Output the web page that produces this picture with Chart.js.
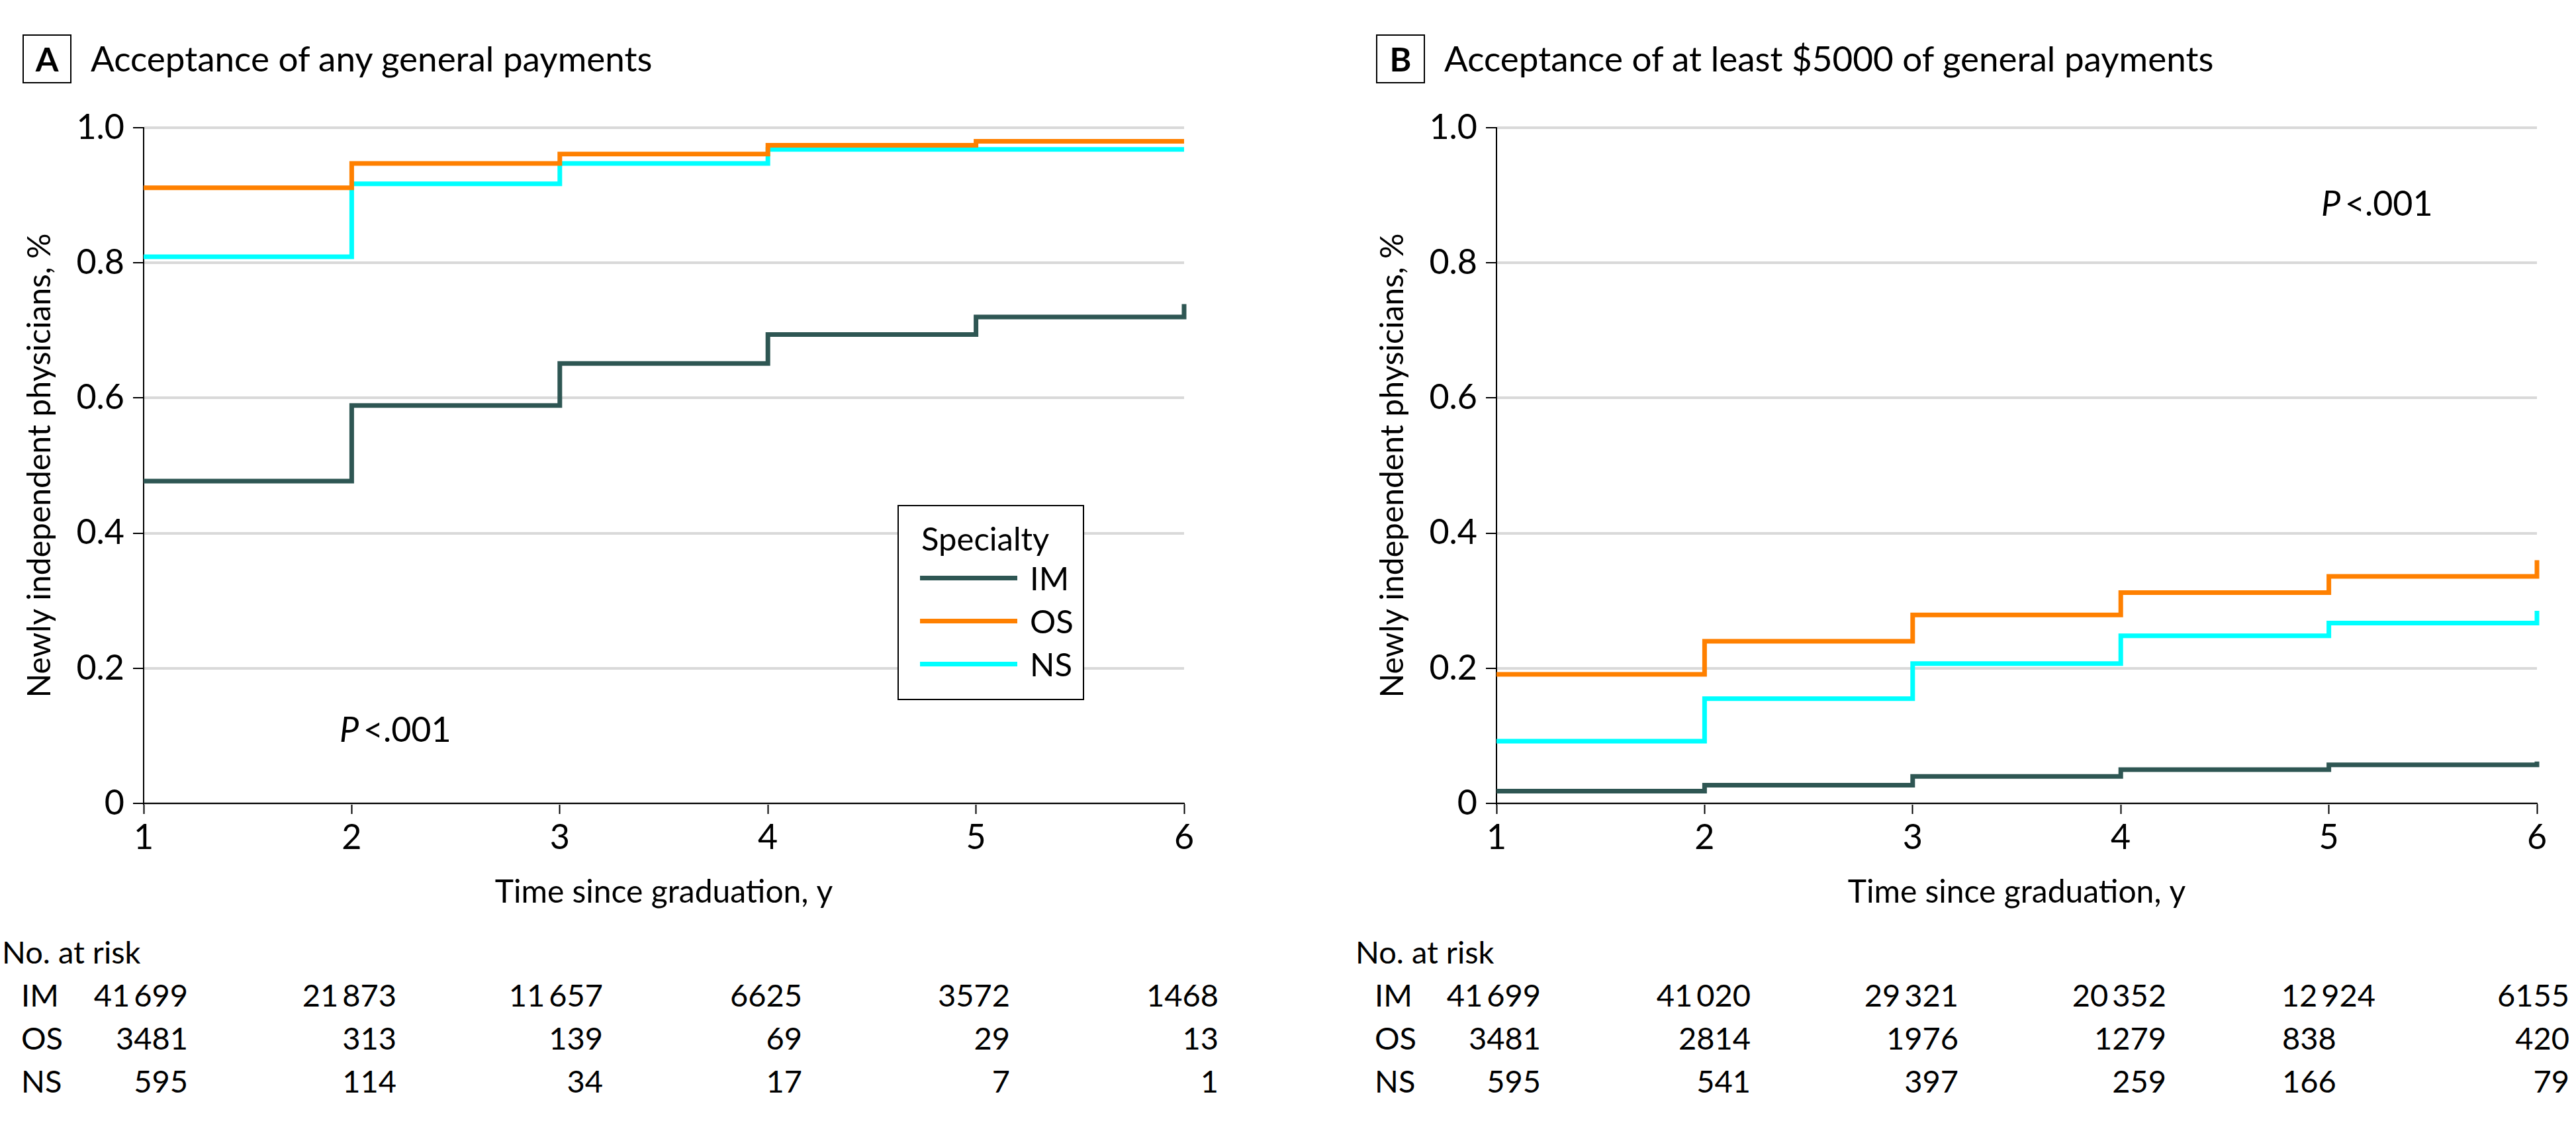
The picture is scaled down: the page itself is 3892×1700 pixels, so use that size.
<!DOCTYPE html>
<html>
<head>
<meta charset="utf-8">
<script src="https://cdn.jsdelivr.net/npm/chart.js@4.4.3/dist/chart.umd.min.js"></script>
<style>
  body { margin: 0; background: #fff; }
  #page { position: relative; width: 3892px; height: 1700px; overflow: hidden; font-family: Lato, "Open Sans", sans-serif; color: #000; }
  canvas { position: absolute; top: 0; }
  .txt { position: absolute; white-space: nowrap; }
  .panelBox { position: absolute; box-sizing: border-box; border: 2px solid #000; font-weight: bold; text-align: center; }
  .legendBox { position: absolute; box-sizing: border-box; border: 2px solid #000; background: #fff; }
  .legendLine { position: absolute; height: 7px; }
</style>
</head>
<body>
<div id="page">
  <canvas id="chartA" width="1848" height="1400" style="left:0px"></canvas>
  <canvas id="chartB" width="1848" height="1400" style="left:2044px"></canvas>
</div>
<script>
// cumulative share accepting payments, years 1..6 since graduation
const years = [1, 2, 3, 4, 5, 6];
const specialties = ['IM', 'OS', 'NS'];

const anyIM = [0.477, 0.589, 0.651, 0.694, 0.720, 0.739];
const anyOS = [0.911, 0.947, 0.961, 0.974, 0.980, 0.980];
const anyNS = [0.809, 0.917, 0.947, 0.968, 0.968, 0.968];

const bigIM = [0.018, 0.027, 0.040, 0.050, 0.057, 0.062];
const bigOS = [0.191, 0.240, 0.279, 0.312, 0.336, 0.360];
const bigNS = [0.092, 0.155, 0.207, 0.248, 0.267, 0.285];

// number at risk
const riskAnyIM = [41699, 21873, 11657, 6625, 3572, 1468];
const riskAnyOS = [3481, 313, 139, 69, 29, 13];
const riskAnyNS = [595, 114, 34, 17, 7, 1];

const riskBigIM = [41699, 41020, 29321, 20352, 12924, 6155];
const riskBigOS = [3481, 2814, 1976, 1279, 838, 420];
const riskBigNS = [595, 541, 397, 259, 166, 79];

const colors = { IM: '#2e5653', OS: '#ff8000', NS: '#00ffff' };
const FONT = 'Lato';

Chart.defaults.font.family = FONT;
Chart.defaults.color = '#000';

const page = document.getElementById('page');

function addText(html, x, baseline, size, opts = {}) {
    const el = document.createElement('div');
    el.className = 'txt';
    el.innerHTML = html;
    el.style.fontSize = size + 'px';
    el.style.lineHeight = size + 'px';
    el.style.left = x + 'px';
    el.style.top = (baseline - 0.887 * size) + 'px';
    if (opts.align === 'right') el.style.transform = 'translateX(-100%)';
    if (opts.bold) el.style.fontWeight = 'bold';
    page.appendChild(el);
    return el;
}

function series(label, values) {
    return {
        label: label,
        data: years.map((x, i) => ({ x: x, y: values[i] })),
        borderColor: colors[label],
        backgroundColor: colors[label],
        borderWidth: 7,
        pointRadius: 0,
        stepped: true,
        fill: false,
        clip: false,
        borderCapStyle: 'butt',
        borderJoinStyle: 'miter'
    };
}

function buildChart(id, im, os, ns) {
    const ctx = document.getElementById(id);
    return new Chart(ctx, {
        type: 'line',
        data: { datasets: [series('IM', im), series('OS', os), series('NS', ns)] },
        options: {
            responsive: false,
            animation: false,
            devicePixelRatio: 1,
            layout: { padding: { top: 193, right: 59, bottom: 0, left: 0 } },
            plugins: { legend: { display: false }, tooltip: { enabled: false } },
            scales: {
                x: {
                    type: 'linear',
                    min: 1,
                    max: 6,
                    ticks: { stepSize: 1, autoSkip: false, maxRotation: 0, padding: 5, font: { size: 52 } },
                    grid: { drawOnChartArea: false, tickLength: 16, tickColor: '#000', tickWidth: 2 },
                    border: { color: '#000', width: 2 },
                    title: { display: true, text: 'Time since graduation, y', font: { size: 48 }, padding: { top: 0, bottom: 23 } },
                    afterFit: (s) => { s.height = 186; }
                },
                y: {
                    min: 0,
                    max: 1,
                    ticks: {
                        stepSize: 0.2,
                        padding: 13,
                        font: { size: 52 },
                        callback: (v) => (v === 0 ? '0' : v.toFixed(1))
                    },
                    grid: { color: '#d9d9d9', lineWidth: 4, tickLength: 16, tickColor: '#000', tickWidth: 2 },
                    border: { color: '#000', width: 2 },
                    title: { display: true, text: 'Newly independent physicians, %', font: { size: 48 }, padding: { top: 32, bottom: 0 } },
                    afterFit: (s) => { s.width = 217; }
                }
            }
        }
    });
}

function fmt(n) {
    const s = String(n);
    return s.length > 4 ? s.slice(0, -3) + '\u2009' + s.slice(-3) : s;
}

function riskTable(left, rows, colRight, leftAligned) {
    addText('No. at risk', left, 1457, 47);
    const baselines = [1522, 1587, 1652];
    rows.forEach((vals, r) => {
        addText(specialties[r], left + 29, baselines[r], 47);
        vals.forEach((v, c) => {
            const key = r + ':' + c;
            if (leftAligned && leftAligned[key] !== undefined) {
                addText(fmt(v), leftAligned[key], baselines[r], 47);
            } else {
                addText(fmt(v), colRight[c], baselines[r], 47, { align: 'right' });
            }
        });
    });
}

function panelTitle(letter, boxLeft, textLeft, text) {
    const box = document.createElement('div');
    box.className = 'panelBox';
    box.style.left = boxLeft + 'px';
    box.style.top = '52px';
    box.style.width = '74px';
    box.style.height = '74px';
    box.style.fontSize = '50px';
    box.style.lineHeight = '70px';
    box.textContent = letter;
    page.appendChild(box);
    addText(text, textLeft, 108, 53);
}

function legend(left, top) {
    const box = document.createElement('div');
    box.className = 'legendBox';
    box.style.left = left + 'px';
    box.style.top = top + 'px';
    box.style.width = '282px';
    box.style.height = '295px';
    page.appendChild(box);
    addText('Specialty', left + 36, top + 69, 49);
    specialties.forEach((name, i) => {
        const line = document.createElement('div');
        line.className = 'legendLine';
        line.style.background = colors[name];
        line.style.left = (left + 34) + 'px';
        line.style.width = '147px';
        line.style.top = (top + 107 + i * 65) + 'px';
        page.appendChild(line);
        addText(name, left + 200, top + 129 + i * 65, 49);
    });
}

buildChart('chartA', anyIM, anyOS, anyNS);
buildChart('chartB', bigIM, bigOS, bigNS);

panelTitle('A', 34, 137, 'Acceptance of any general payments');
panelTitle('B', 2079, 2182, 'Acceptance of at least $5000 of general payments');

legend(1356, 763);

addText('<i>P</i>\u2009&lt;.001', 513, 1121, 52);
addText('<i>P</i>\u2009&lt;.001', 3507, 326, 52);

riskTable(3, [riskAnyIM, riskAnyOS, riskAnyNS], [284, 599, 911, 1212, 1526, 1841]);
riskTable(2048, [riskBigIM, riskBigOS, riskBigNS], [2328, 2645, 2959, 3273, 3589, 3882], { '1:4': 3448, '2:4': 3448 });
</script>
</body>
</html>
